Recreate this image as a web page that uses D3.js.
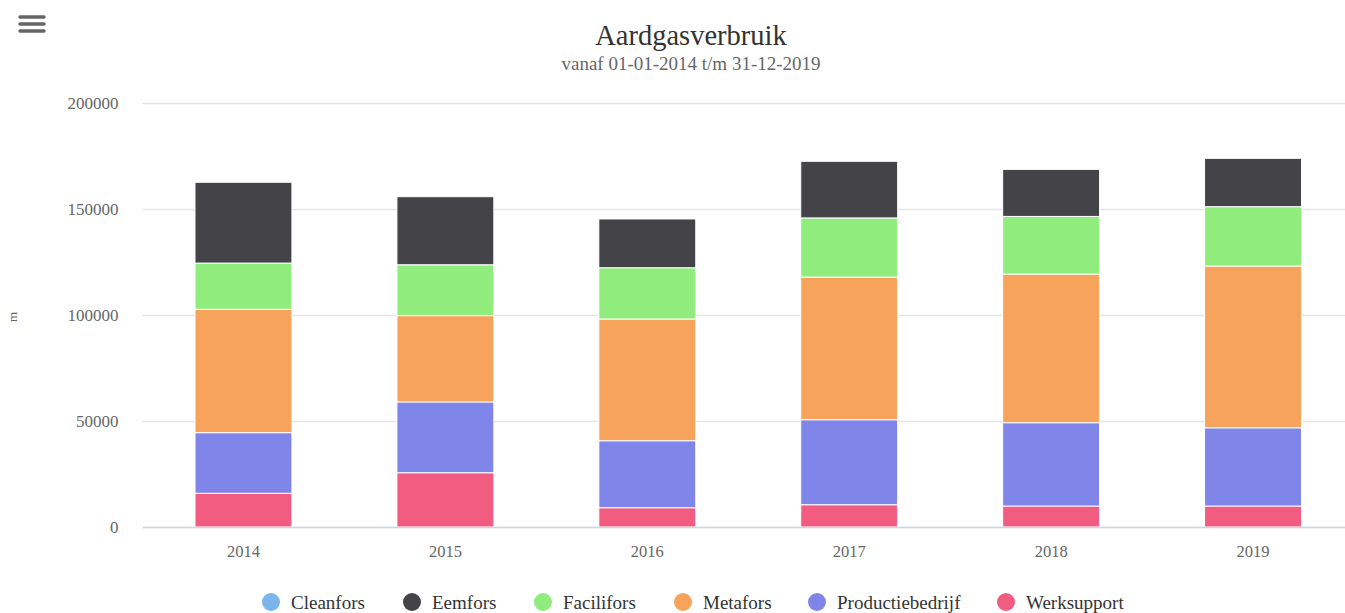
<!DOCTYPE html>
<html><head><meta charset="utf-8">
<script src="https://cdn.jsdelivr.net/npm/d3@7"></script>
<style>
html,body{margin:0;padding:0;background:#fff;overflow:hidden;}
text{font-family:"Liberation Serif","Times New Roman",serif;}
</style></head>
<body><svg id="c" width="1345" height="613"></svg>
<script>
const categories = ["2014","2015","2016","2017","2018","2019"];
const seriesNames = ["Cleanfors","Eemfors","Facilifors","Metafors","Productiebedrijf","Werksupport"];
const colors = ["#7cb5ec","#434348","#90ed7d","#f7a35c","#8085e9","#f15c80"];
const cleanfors = [0,0,0,0,0,0];
const eemfors = [38100,32100,23000,26700,22200,22800];
const facilifors = [21800,24000,24200,27900,27200,28000];
const metafors = [58200,40700,57400,67300,70100,76300];
const productiebedrijf = [28600,33400,31600,40100,39300,36900];
const werksupport = [15900,25600,9100,10500,9900,9900];
const yTicks = [0,50000,100000,150000,200000];
const titleText = "Aardgasverbruik";
const subtitleText = "vanaf 01-01-2014 t/m 31-12-2019";
const yTitle = "m";

(function(){
const values = [cleanfors,eemfors,facilifors,metafors,productiebedrijf,werksupport];
const rows = categories.map((c,i)=>{const r={cat:c}; seriesNames.forEach((s,j)=>r[s]=values[j][i]); return r;});
const stack = d3.stack().keys(seriesNames.slice().reverse())(rows);

const svg = d3.select("#c");
const pL=142.5, pR=1354, pT=103, pB=527;
const x = d3.scaleBand().domain(categories).range([pL,pR]).paddingInner(0.52).paddingOuter(0.26);
const y = d3.scaleLinear().domain([0,200000]).range([pB,pT]);

const menu = svg.append("g");
[17,24,31].forEach(yy=>menu.append("line").attr("x1",20).attr("x2",44).attr("y1",yy).attr("y2",yy)
  .attr("stroke","#666").attr("stroke-width",3.5).attr("stroke-linecap","round"));

svg.append("text").attr("x",691).attr("y",45).attr("text-anchor","middle").attr("fill","#333")
  .style("font-size","28.5px").text(titleText);
svg.append("text").attr("x",691).attr("y",70).attr("text-anchor","middle").attr("fill","#666")
  .style("font-size","19px").text(subtitleText);

const grid = svg.append("g").attr("transform",`translate(${pL},0)`)
  .call(d3.axisLeft(y).tickValues(yTicks).tickSize(-(pR-pL)).tickFormat(d=>d));
grid.select(".domain").remove();
grid.selectAll(".tick line").attr("stroke","#e6e6e6").attr("stroke-width",1.5);
grid.selectAll(".tick text").attr("fill","#666").style("font-size","17px")
  .style("font-family","'Liberation Serif',serif").attr("x",-24).attr("dy","0.32em");

svg.append("text").attr("transform","translate(17,317) rotate(-90)").attr("text-anchor","middle")
  .attr("fill","#666").style("font-size","13px").text(yTitle);

const colorOf = d3.scaleOrdinal().domain(seriesNames).range(colors);
svg.append("g").selectAll("g").data(stack).join("g").attr("fill",d=>colorOf(d.key))
  .selectAll("rect").data(d=>d).join("rect")
  .attr("x",d=>x(d.data.cat)).attr("width",x.bandwidth())
  .attr("y",d=>y(d[1])).attr("height",d=>Math.max(0,y(d[0])-y(d[1])))
  .attr("stroke","#fff").attr("stroke-width",1);

const xa = svg.append("g").attr("transform",`translate(0,${pB})`).call(d3.axisBottom(x).tickSize(0));
xa.select(".domain").attr("stroke","#ccd6eb").attr("stroke-width",1.5);
xa.selectAll(".tick text").attr("fill","#666").style("font-size","16.5px")
  .style("font-family","'Liberation Serif',serif").attr("y",18).attr("dy","0.71em");

const legendX = [275,416,547,687,821,1010];
const lg = svg.append("g");
seriesNames.forEach((s,i)=>{
  const g = lg.append("g").attr("transform",`translate(${legendX[i]},602)`);
  g.append("circle").attr("r",9).attr("cx",-4).attr("cy",0).attr("fill",colors[i]);
  g.append("text").attr("x",16).attr("y",0).attr("dy","0.35em").attr("fill","#333")
    .style("font-size","19px").text(s);
});
})();
</script></body></html>
